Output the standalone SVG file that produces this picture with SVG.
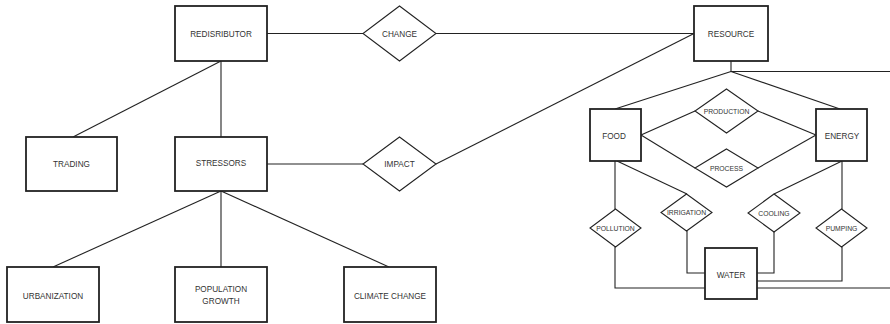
<svg xmlns="http://www.w3.org/2000/svg" width="890" height="324" viewBox="0 0 890 324">
<style>
.box{fill:#fff;stroke:#222;stroke-width:1.8}
.dia{fill:#fff;stroke:#222;stroke-width:1.1}
.ln{fill:none;stroke:#222;stroke-width:1.1}
text{font-family:"Liberation Sans",Arial,sans-serif;font-size:8.2px;fill:#333;text-anchor:middle}
.s{font-size:6.8px}
</style>
<rect width="890" height="324" fill="#fff"/>
<g id="connectors">
<line class="ln" x1="267" y1="33.5" x2="363" y2="33.5"/>
<line class="ln" x1="436" y1="33.5" x2="694" y2="33.5"/>
<line class="ln" x1="221" y1="61" x2="73" y2="137"/>
<line class="ln" x1="221" y1="61" x2="221" y2="137"/>
<line class="ln" x1="267" y1="164" x2="363" y2="164"/>
<line class="ln" x1="436" y1="164" x2="694" y2="33.5"/>
<line class="ln" x1="221" y1="191" x2="53" y2="267"/>
<line class="ln" x1="221" y1="191" x2="221" y2="267"/>
<line class="ln" x1="221" y1="191" x2="389" y2="267"/>
<polyline class="ln" points="731,61 731,71.5 890,71.5"/>
<line class="ln" x1="731" y1="71.5" x2="615" y2="109"/>
<line class="ln" x1="731" y1="71.5" x2="840" y2="109"/>
<line class="ln" x1="641" y1="135" x2="695" y2="111"/>
<line class="ln" x1="641" y1="135" x2="695" y2="168"/>
<line class="ln" x1="816" y1="135" x2="758" y2="111"/>
<line class="ln" x1="816" y1="135" x2="758" y2="168"/>
<line class="ln" x1="615" y1="161" x2="615" y2="209"/>
<polyline class="ln" points="615,247 615,288 705,288"/>
<line class="ln" x1="617" y1="161" x2="687" y2="194"/>
<polyline class="ln" points="687,231 687,273 705,273"/>
<line class="ln" x1="842" y1="161" x2="774" y2="194"/>
<polyline class="ln" points="774,232 774,273 757,273"/>
<line class="ln" x1="842" y1="161" x2="842" y2="209"/>
<polyline class="ln" points="842,247 842,281 757,281"/>
<line class="ln" x1="757" y1="288" x2="890" y2="288"/>
</g>
<g id="redistributor"><rect class="box" x="175" y="6" width="92" height="55"/><text x="221" y="36.5">REDISRIBUTOR</text></g>
<g id="change"><polygon class="dia" points="399.5,6 436,33.5 399.5,61 363,33.5"/><text x="399.5" y="36.5">CHANGE</text></g>
<g id="resource"><rect class="box" x="694" y="6" width="74" height="55"/><text x="731" y="37">RESOURCE</text></g>
<g id="trading"><rect class="box" x="26" y="137" width="91" height="54"/><text x="71.5" y="167">TRADING</text></g>
<g id="stressors"><rect class="box" x="175" y="137" width="92" height="54"/><text x="221" y="166">STRESSORS</text></g>
<g id="impact"><polygon class="dia" points="399.5,137 436,164 399.5,191 363,164"/><text x="399.5" y="167">IMPACT</text></g>
<g id="urbanization"><rect class="box" x="7" y="267" width="92" height="55"/><text x="53" y="299">URBANIZATION</text></g>
<g id="population-growth"><rect class="box" x="175" y="267" width="92" height="55"/><text x="221" y="292">POPULATION</text><text x="221" y="304">GROWTH</text></g>
<g id="climate-change"><rect class="box" x="344" y="267" width="92" height="55"/><text x="390" y="299">CLIMATE CHANGE</text></g>
<g id="food"><rect class="box" x="590" y="109" width="51" height="52"/><text x="614" y="139">FOOD</text></g>
<g id="energy"><rect class="box" x="816" y="109" width="51" height="52"/><text x="842" y="139">ENERGY</text></g>
<g id="production"><polygon class="dia" points="726.5,89 758,111 726.5,133 695,111"/><text class="s" x="726.5" y="113.5">PRODUCTION</text></g>
<g id="process"><polygon class="dia" points="726.5,149 758,168 726.5,187 695,168"/><text class="s" x="726.5" y="170.5">PROCESS</text></g>
<g id="pollution"><polygon class="dia" points="615.5,209 641,228 615.5,247 590,228"/><text class="s" x="615.5" y="230.5">POLLUTION</text></g>
<g id="irrigation"><polygon class="dia" points="686.5,194 712,212.5 686.5,231 661,212.5"/><text class="s" x="686.5" y="215">IRRIGATION</text></g>
<g id="cooling"><polygon class="dia" points="774,194 800,213 774,232 748,213"/><text class="s" x="774" y="215.5">COOLING</text></g>
<g id="pumping"><polygon class="dia" points="841.5,209 867,228 841.5,247 816,228"/><text class="s" x="841.5" y="230.5">PUMPING</text></g>
<g id="water"><rect class="box" x="705" y="248" width="52" height="51"/><text x="731" y="278">WATER</text></g>
</svg>
